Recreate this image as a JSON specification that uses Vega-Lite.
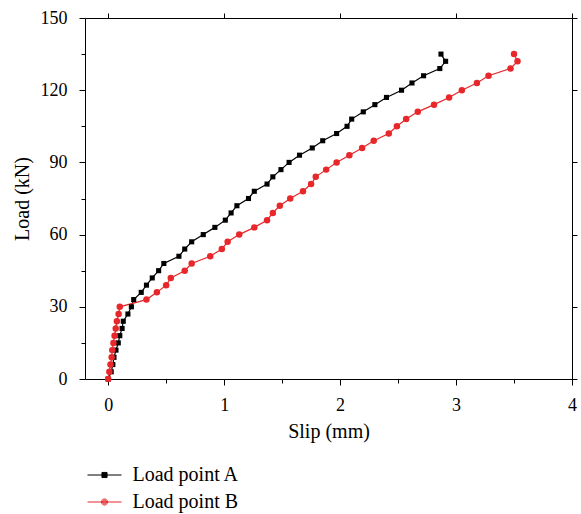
{
  "$schema": "https://vega.github.io/schema/vega-lite/v6.json",
  "width": 487,
  "height": 361,
  "autosize": "none",
  "padding": {"left": 85, "top": 18, "right": 9, "bottom": 135},
  "config": {
    "font": "Liberation Serif",
    "view": {"stroke": null},
    "axis": {
      "grid": false,
      "domainColor": "#000000",
      "tickColor": "#000000",
      "labelColor": "#000000",
      "titleColor": "#000000",
      "labelFont": "Liberation Serif",
      "titleFont": "Liberation Serif",
      "labelFontSize": 18,
      "titleFontSize": 20,
      "titleFontWeight": "normal",
      "domainWidth": 1,
      "tickWidth": 1
    }
  },
  "data": {
    "values": [
      {"series": "Load point A", "load": 0, "slip": 0},
      {"series": "Load point A", "load": 3, "slip": 0.026},
      {"series": "Load point A", "load": 6, "slip": 0.04},
      {"series": "Load point A", "load": 9, "slip": 0.05},
      {"series": "Load point A", "load": 12, "slip": 0.067},
      {"series": "Load point A", "load": 15, "slip": 0.087},
      {"series": "Load point A", "load": 18, "slip": 0.1},
      {"series": "Load point A", "load": 21, "slip": 0.12},
      {"series": "Load point A", "load": 24, "slip": 0.13},
      {"series": "Load point A", "load": 27, "slip": 0.17},
      {"series": "Load point A", "load": 30, "slip": 0.2},
      {"series": "Load point A", "load": 33, "slip": 0.22},
      {"series": "Load point A", "load": 36, "slip": 0.285},
      {"series": "Load point A", "load": 39, "slip": 0.33},
      {"series": "Load point A", "load": 42, "slip": 0.38},
      {"series": "Load point A", "load": 45, "slip": 0.435},
      {"series": "Load point A", "load": 48, "slip": 0.48},
      {"series": "Load point A", "load": 51, "slip": 0.61},
      {"series": "Load point A", "load": 54, "slip": 0.66},
      {"series": "Load point A", "load": 57, "slip": 0.72},
      {"series": "Load point A", "load": 60, "slip": 0.82},
      {"series": "Load point A", "load": 63, "slip": 0.92},
      {"series": "Load point A", "load": 66, "slip": 1.01},
      {"series": "Load point A", "load": 69, "slip": 1.06},
      {"series": "Load point A", "load": 72, "slip": 1.11},
      {"series": "Load point A", "load": 75, "slip": 1.21},
      {"series": "Load point A", "load": 78, "slip": 1.26},
      {"series": "Load point A", "load": 81, "slip": 1.37},
      {"series": "Load point A", "load": 84, "slip": 1.42},
      {"series": "Load point A", "load": 87, "slip": 1.49},
      {"series": "Load point A", "load": 90, "slip": 1.56},
      {"series": "Load point A", "load": 93, "slip": 1.65},
      {"series": "Load point A", "load": 96, "slip": 1.76},
      {"series": "Load point A", "load": 99, "slip": 1.85},
      {"series": "Load point A", "load": 102, "slip": 1.97},
      {"series": "Load point A", "load": 105, "slip": 2.06},
      {"series": "Load point A", "load": 108, "slip": 2.1},
      {"series": "Load point A", "load": 111, "slip": 2.2},
      {"series": "Load point A", "load": 114, "slip": 2.3},
      {"series": "Load point A", "load": 117, "slip": 2.4},
      {"series": "Load point A", "load": 120, "slip": 2.53},
      {"series": "Load point A", "load": 123, "slip": 2.62},
      {"series": "Load point A", "load": 126, "slip": 2.72},
      {"series": "Load point A", "load": 129, "slip": 2.86},
      {"series": "Load point A", "load": 132, "slip": 2.91},
      {"series": "Load point A", "load": 135, "slip": 2.87},
      {"series": "Load point B", "load": 0, "slip": 0},
      {"series": "Load point B", "load": 3, "slip": 0.01},
      {"series": "Load point B", "load": 6, "slip": 0.02},
      {"series": "Load point B", "load": 9, "slip": 0.03},
      {"series": "Load point B", "load": 12, "slip": 0.035},
      {"series": "Load point B", "load": 15, "slip": 0.045},
      {"series": "Load point B", "load": 18, "slip": 0.055},
      {"series": "Load point B", "load": 21, "slip": 0.065},
      {"series": "Load point B", "load": 24, "slip": 0.075},
      {"series": "Load point B", "load": 27, "slip": 0.09},
      {"series": "Load point B", "load": 30, "slip": 0.1},
      {"series": "Load point B", "load": 33, "slip": 0.33},
      {"series": "Load point B", "load": 36, "slip": 0.42},
      {"series": "Load point B", "load": 39, "slip": 0.5},
      {"series": "Load point B", "load": 42, "slip": 0.54},
      {"series": "Load point B", "load": 45, "slip": 0.66},
      {"series": "Load point B", "load": 48, "slip": 0.72},
      {"series": "Load point B", "load": 51, "slip": 0.88},
      {"series": "Load point B", "load": 54, "slip": 0.98},
      {"series": "Load point B", "load": 57, "slip": 1.03},
      {"series": "Load point B", "load": 60, "slip": 1.13},
      {"series": "Load point B", "load": 63, "slip": 1.26},
      {"series": "Load point B", "load": 66, "slip": 1.37},
      {"series": "Load point B", "load": 69, "slip": 1.42},
      {"series": "Load point B", "load": 72, "slip": 1.48},
      {"series": "Load point B", "load": 75, "slip": 1.57},
      {"series": "Load point B", "load": 78, "slip": 1.68},
      {"series": "Load point B", "load": 81, "slip": 1.75},
      {"series": "Load point B", "load": 84, "slip": 1.79},
      {"series": "Load point B", "load": 87, "slip": 1.88},
      {"series": "Load point B", "load": 90, "slip": 1.97},
      {"series": "Load point B", "load": 93, "slip": 2.08},
      {"series": "Load point B", "load": 96, "slip": 2.19},
      {"series": "Load point B", "load": 99, "slip": 2.29},
      {"series": "Load point B", "load": 102, "slip": 2.42},
      {"series": "Load point B", "load": 105, "slip": 2.49},
      {"series": "Load point B", "load": 108, "slip": 2.57},
      {"series": "Load point B", "load": 111, "slip": 2.67},
      {"series": "Load point B", "load": 114, "slip": 2.81},
      {"series": "Load point B", "load": 117, "slip": 2.94},
      {"series": "Load point B", "load": 120, "slip": 3.05},
      {"series": "Load point B", "load": 123, "slip": 3.18},
      {"series": "Load point B", "load": 126, "slip": 3.28},
      {"series": "Load point B", "load": 129, "slip": 3.47},
      {"series": "Load point B", "load": 132, "slip": 3.53},
      {"series": "Load point B", "load": 135, "slip": 3.5}
    ]
  },
  "layer": [
    {
      "transform": [{"filter": "false"}],
      "mark": {"type": "point", "filled": false, "strokeWidth": 1, "opacity": 1},
      "encoding": {
        "color": {
          "field": "series", "type": "nominal",
          "scale": {"domain": ["Load point A", "Load point B"], "range": ["#000000", "#e8272b"]},
          "legend": {
            "title": null,
            "orient": "none",
            "legendX": 9.5,
            "legendY": 447,
            "direction": "vertical",
            "padding": 0,
            "symbolSize": 289,
            "symbolStrokeWidth": 1,
            "symbolOpacity": 1,
            "labelFontSize": 20,
            "labelFont": "Liberation Serif",
            "labelColor": "#000000",
            "labelOffset": 18,
            "rowPadding": 7
          }
        },
        "shape": {
          "field": "series", "type": "nominal",
          "scale": {
            "domain": ["Load point A", "Load point B"],
            "range": [
              "M-2,0H2M-0.3,-0.3H0.3V0.3H-0.3ZM-0.3,-0.18H0.3M-0.3,-0.06H0.3M-0.3,0.06H0.3M-0.3,0.18H0.3",
              "M-2,0H2M0.36,0A0.36,0.36,0,1,1,-0.36,0A0.36,0.36,0,1,1,0.36,0M0.24,0A0.24,0.24,0,1,1,-0.24,0A0.24,0.24,0,1,1,0.24,0M0.12,0A0.12,0.12,0,1,1,-0.12,0A0.12,0.12,0,1,1,0.12,0"
            ]
          }
        }
      }
    },
    {
      "transform": [{"filter": "datum.series === 'Load point A'"}],
      "mark": {"type": "line", "strokeWidth": 1.2, "color": "#000000"},
      "encoding": {
        "x": {"field": "slip", "type": "quantitative", "scale": {"domain": [-0.2, 4], "nice": false, "zero": false}, "axis": null},
        "y": {"field": "load", "type": "quantitative", "scale": {"domain": [0, 150], "nice": false}, "axis": null},
        "order": {"field": "load", "type": "quantitative"}
      }
    },
    {
      "transform": [{"filter": "datum.series === 'Load point B'"}],
      "mark": {"type": "line", "strokeWidth": 1.2, "color": "#e8272b"},
      "encoding": {
        "x": {"field": "slip", "type": "quantitative", "scale": {"domain": [-0.2, 4], "nice": false, "zero": false}, "axis": null},
        "y": {"field": "load", "type": "quantitative", "scale": {"domain": [0, 150], "nice": false}, "axis": null},
        "order": {"field": "load", "type": "quantitative"}
      }
    },
    {
      "mark": {"type": "point", "filled": true, "opacity": 1},
      "encoding": {
        "x": {"field": "slip", "type": "quantitative", "scale": {"domain": [-0.2, 4], "nice": false, "zero": false},
          "axis": {"orient": "bottom", "title": "Slip (mm)", "values": [0, 1, 2, 3, 4], "tickSize": 6, "labelPadding": 11, "titlePadding": 7, "labelFlush": false}},
        "y": {"field": "load", "type": "quantitative", "scale": {"domain": [0, 150], "nice": false},
          "axis": {"orient": "left", "title": "Load (kN)", "values": [0, 30, 60, 90, 120, 150], "tickSize": 6, "labelPadding": 12, "titlePadding": 8, "labelFlush": false}},
        "color": {"condition": {"test": "datum.series === 'Load point A'", "value": "#000000"}, "value": "#e8272b"},
        "shape": {"condition": {"test": "datum.series === 'Load point A'", "value": "square"}, "value": "circle"},
        "size": {"condition": {"test": "datum.series === 'Load point A'", "value": 26}, "value": 42}
      }
    },
    {
      "mark": {"type": "point", "opacity": 0},
      "encoding": {
        "x": {"field": "slip", "type": "quantitative", "scale": {"domain": [-0.2, 4], "nice": false, "zero": false},
          "axis": {"orient": "bottom", "title": null, "values": [0.5, 1.5, 2.5, 3.5], "labels": false, "tickSize": 4, "domain": false}},
        "y": {"field": "load", "type": "quantitative", "scale": {"domain": [0, 150], "nice": false},
          "axis": {"orient": "left", "title": null, "values": [15, 45, 75, 105, 135], "labels": false, "tickSize": 4, "domain": false}}
      }
    },
    {
      "mark": {"type": "point", "opacity": 0},
      "encoding": {
        "x": {"field": "slip", "type": "quantitative", "scale": {"domain": [-0.2, 4], "nice": false, "zero": false},
          "axis": {"orient": "top", "title": null, "values": [0, 1, 2, 3, 4], "labels": false, "tickSize": 5,
            "encode": {"ticks": {"y2": {"value": 5}}}}},
        "y": {"field": "load", "type": "quantitative", "scale": {"domain": [0, 150], "nice": false},
          "axis": {"orient": "right", "title": null, "values": [0, 30, 60, 90, 120, 150], "labels": false, "tickSize": 5,
            "encode": {"ticks": {"x2": {"value": -5}}}}}
      }
    }
  ],
  "resolve": {"axis": {"x": "independent", "y": "independent"}}
}
